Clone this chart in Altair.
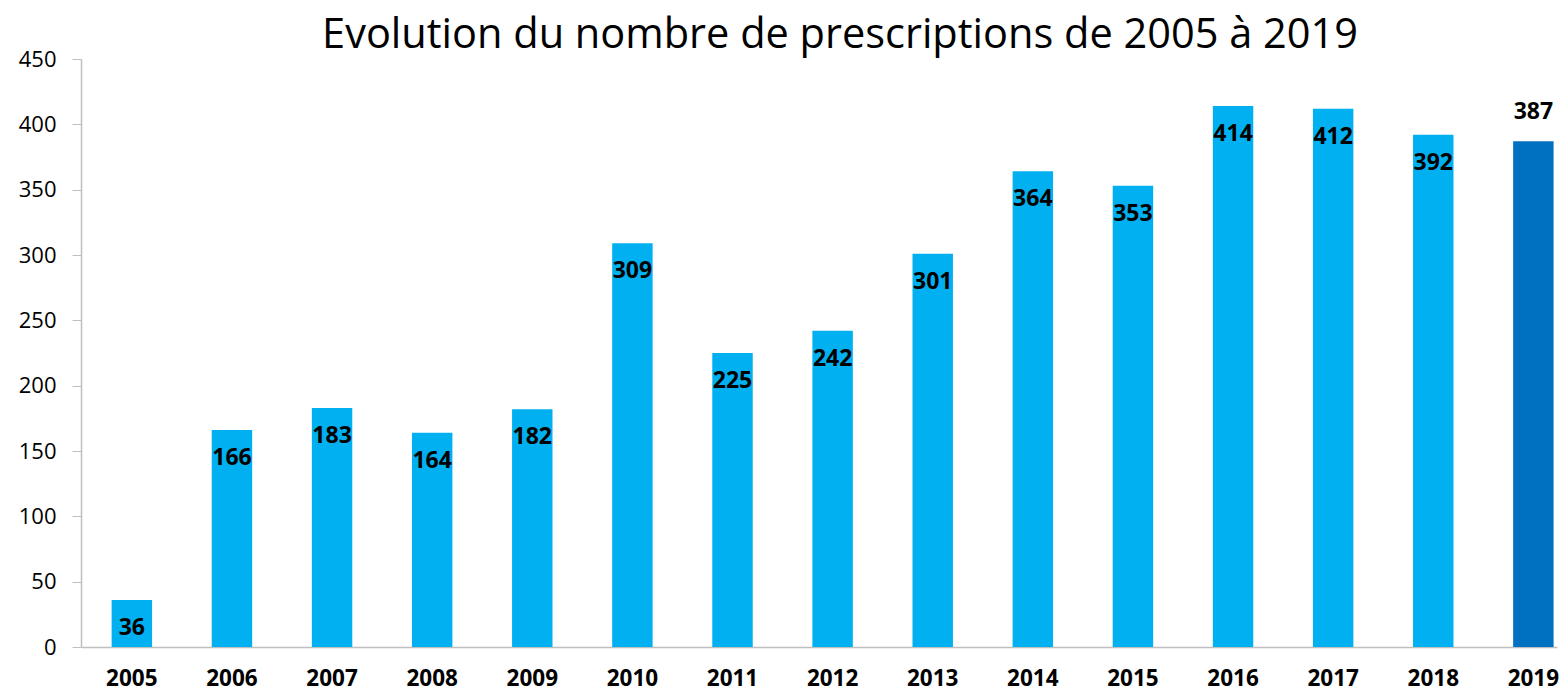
import altair as alt
import pandas as pd

years = ["2005", "2006", "2007", "2008", "2009", "2010", "2011", "2012",
         "2013", "2014", "2015", "2016", "2017", "2018", "2019"]
values = [36, 166, 183, 164, 182, 309, 225, 242, 301, 364, 353, 414, 412, 392, 387]
highlight = [False] * 14 + [True]

df = pd.DataFrame({"year": years, "value": values, "last": highlight})

FONT = "Open Sans"

x = alt.X("year:N", sort=years, title=None,
          scale=alt.Scale(paddingInner=0.596, paddingOuter=0.17, align=0.9),
          axis=alt.Axis(labelAngle=0, ticks=False, labelFont=FONT, labelFontSize=22.5,
                        labelFontWeight="bold", labelColor="black", labelPadding=20,
                        domainColor="#BFBFBF", domainWidth=1.5))
y = alt.Y("value:Q", title=None,
          scale=alt.Scale(domain=[0, 450], nice=False),
          axis=alt.Axis(values=list(range(0, 451, 50)), grid=False, labelFont=FONT,
                        labelFontSize=22, labelColor="black", tickSize=9,
                        tickColor="#BFBFBF", domainColor="#BFBFBF", domainWidth=1.5,
                        labelPadding=16))

base = alt.Chart(df)

bars = base.mark_bar().encode(
    x=x, y=y,
    color=alt.condition(alt.datum["last"], alt.value("#0070C0"), alt.value("#00B0F0")),
)

inside = base.transform_filter(~alt.datum["last"]).mark_text(
    font=FONT, fontSize=23, fontWeight="bold", color="black",
    baseline="alphabetic", dy=35,
).encode(x=alt.X("year:N", sort=years), y="value:Q", text="value:Q")

above = base.transform_filter(alt.datum["last"]).mark_text(
    font=FONT, fontSize=23, fontWeight="bold", color="black",
    baseline="alphabetic", dy=-22,
).encode(x=alt.X("year:N", sort=years), y="value:Q", text="value:Q")

chart = (bars + inside + above).properties(
    width=1476, height=588,
    title=alt.TitleParams("Evolution du nombre de prescriptions de 2005 à 2019",
                          font=FONT, fontSize=41.5, fontWeight="normal", color="black",
                          anchor="middle", dx=21, dy=14, offset=6),
    autosize=alt.AutoSizeParams(type="none"),
    padding={"left": 73, "top": 51, "right": 2, "bottom": 46},
).configure_view(stroke=None)

chart.save("out.html", embed_options={"renderer": "svg", "actions": False})
